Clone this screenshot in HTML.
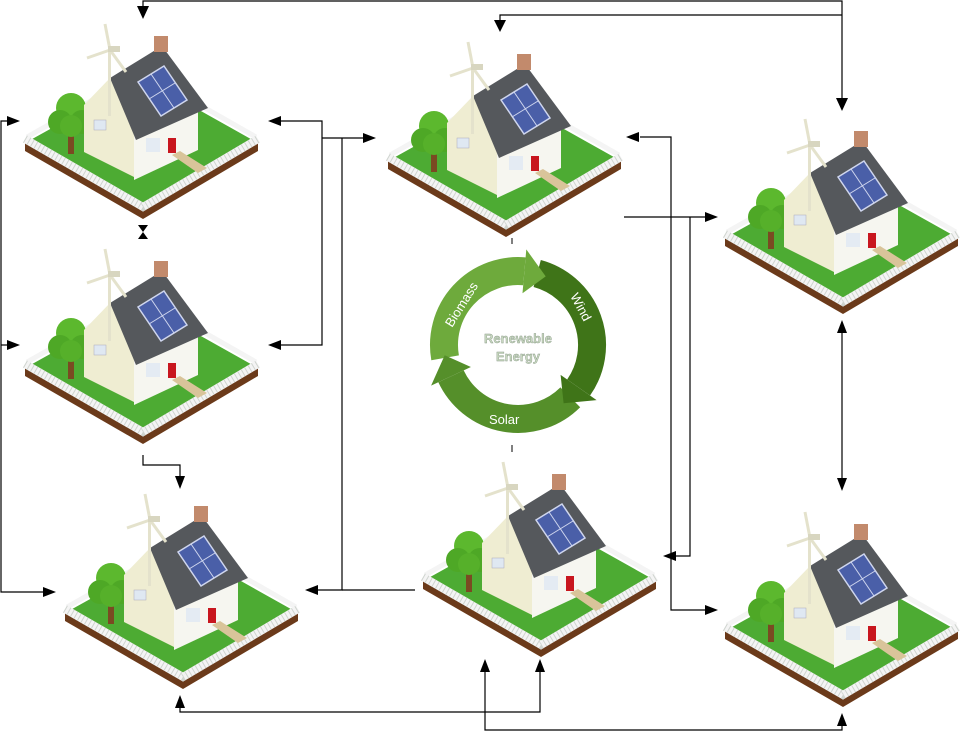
<!DOCTYPE html>
<html><head><meta charset="utf-8"><style>
html,body{margin:0;padding:0;background:#fff;}
svg{display:block;font-family:"Liberation Sans",sans-serif;}
</style></head><body>
<svg width="965" height="732" viewBox="0 0 965 732" xmlns="http://www.w3.org/2000/svg">
<defs>
<g id="h">
  <polygon points="3,123 121,191 236,123 236,131 121,199 3,131" fill="#6b3a1a"/>
  <polygon points="3,123 120,58 236,123 121,191" fill="#4dab33"/>
  <polyline points="5,117 120,52 234,117" fill="none" stroke="#f4f4f4" stroke-width="5"/>
  <polyline points="3,119 121,187 236,119" fill="none" stroke="#f4f4f4" stroke-width="8"/>
  <polyline points="3,119 121,187 236,119" fill="none" stroke="#cfd4cf" stroke-width="8" stroke-dasharray="1 3"/>
  <!-- tree -->
  <rect x="46" y="108" width="6" height="26" fill="#7a4a22"/>
  <circle cx="49" cy="88" r="15" fill="#5cb82e"/>
  <circle cx="38" cy="102" r="12" fill="#4ea826"/>
  <circle cx="60" cy="102" r="12" fill="#4ea826"/>
  <circle cx="49" cy="106" r="11" fill="#56b02a"/>
  <!-- house -->
  <polygon points="62,85 88,58 112,110 112,157 62,132" fill="#efedd2"/>
  <polygon points="112,110 176,80 176,130 112,160" fill="#f6f6f0"/>
  <polygon points="88,58 140,26 186,88 114,120" fill="#55585c"/>
  <polygon points="116,62 142,46 165,80 139,96" fill="#4a5fa8" stroke="#cfd6ee" stroke-width="1.5"/>
  <line x1="129" y1="54" x2="152" y2="88" stroke="#cfd6ee" stroke-width="1"/>
  <line x1="127" y1="79" x2="153" y2="63" stroke="#cfd6ee" stroke-width="1"/>
  <rect x="132" y="16" width="14" height="16" fill="#c28a6c"/>
  <rect x="146" y="118" width="8" height="15" fill="#c8161e"/>
  <rect x="72" y="100" width="12" height="10" fill="#dfe8f2" stroke="#aab" stroke-width="0.5"/>
  <rect x="124" y="118" width="14" height="14" fill="#e4ebf3"/>
  <polygon points="150,135 158,131 185,148 176,153" fill="#d9c49a"/>
  <!-- windmill -->
  <rect x="86" y="28" width="3" height="68" fill="#e4e2cc"/>
  <line x1="88" y1="30" x2="83" y2="4" stroke="#e4e2cc" stroke-width="3"/>
  <line x1="88" y1="30" x2="65" y2="38" stroke="#e4e2cc" stroke-width="3"/>
  <line x1="88" y1="30" x2="104" y2="52" stroke="#e4e2cc" stroke-width="3"/>
  <rect x="86" y="26" width="12" height="6" fill="#d8d6c0"/>
</g>
</defs>

<use href="#h" transform="translate(22,20)"/>
<use href="#h" transform="translate(22,245)"/>
<use href="#h" transform="translate(62,490)"/>
<use href="#h" transform="translate(385,38)"/>
<use href="#h" transform="translate(420,458)"/>
<use href="#h" transform="translate(722,115)"/>
<use href="#h" transform="translate(722,508)"/>

<!-- cycle -->
<g fill="none" stroke-width="28">
  <path d="M445.1 357.8 A74 74 0 0 1 524.4 271.3" stroke="#6eaa3c"/>
  <path d="M537.2 273.5 A74 74 0 0 1 578.6 387.5" stroke="#3f7418"/>
  <path d="M570.3 397.3 A74 74 0 0 1 451 376.3" stroke="#558f2a"/>
</g>
<polygon points="526.3,249.4 522.5,293.2 545.7,276.4" fill="#6eaa3c"/>
<polygon points="596.6,400.1 560.6,374.9 563.6,403.3" fill="#3f7418"/>
<polygon points="431.1,385.6 470.9,367 444.7,355.3" fill="#558f2a"/>
<g fill="#fff" font-size="13">
  <text transform="translate(452,328) rotate(-58)">Biomass</text>
  <text transform="translate(570,296) rotate(62)">Wind</text>
  <text x="489" y="424">Solar</text>
</g>
<g fill="#c8d8c0" font-size="13" font-weight="bold" text-anchor="middle" stroke="#8a9a88" stroke-width="0.4">
  <text x="518" y="343">Renewable</text>
  <text x="518" y="361">Energy</text>
</g>
<line x1="512" y1="238" x2="512" y2="244" stroke="#000"/>
<line x1="512" y1="445" x2="512" y2="452" stroke="#000"/>

<!-- connectors -->
<g stroke="#000" stroke-width="1.2" fill="none">
  <polyline points="143,6 143,1 842,1 842,100"/>
  <polyline points="500,20 500,15 842,15"/>
  <polyline points="8,121 1,121 1,592 45,592"/>
  <line x1="1" y1="345" x2="8" y2="345"/>
  <polyline points="280,121 322,121 322,345 280,345"/>
  <polyline points="322,138 365,138"/>
  <polyline points="342,138 342,590 318,590"/>
  <line x1="342" y1="590" x2="415" y2="590"/>
  <polyline points="143,455 143,465 180,465 180,476"/>
  <polyline points="640,137 671,137 671,610 705,610"/>
  <line x1="624" y1="217" x2="705" y2="217"/>
  <polyline points="690,217 690,556 676,556"/>
  <line x1="842" y1="333" x2="842" y2="478"/>
  <polyline points="180,708 180,712 540,712 540,672"/>
  <polyline points="485,672 485,730 842,730 842,726"/>
</g>
<g fill="#000">
  <polygon points="137,6 149,6 143,19"/>
  <polygon points="494,20 506,20 500,32"/>
  <polygon points="836,98 848,98 842,111"/>
  <polygon points="7,116 7,126 20,121"/>
  <polygon points="7,340 7,350 20,345"/>
  <polygon points="43,587 43,597 56,592"/>
  <polygon points="281,116 281,126 268,121"/>
  <polygon points="281,340 281,350 268,345"/>
  <polygon points="363,133 363,143 376,138"/>
  <polygon points="318,585 318,595 305,590"/>
  <polygon points="138,225 148,225 143,232 148,239 138,239 143,232"/>
  <polygon points="175,476 185,476 180,489"/>
  <polygon points="639,132 639,142 626,137"/>
  <polygon points="705,212 705,222 718,217"/>
  <polygon points="705,605 705,615 718,610"/>
  <polygon points="676,551 676,561 663,556"/>
  <polygon points="837,333 847,333 842,320"/>
  <polygon points="837,478 847,478 842,491"/>
  <polygon points="175,708 185,708 180,695"/>
  <polygon points="535,672 545,672 540,659"/>
  <polygon points="480,672 490,672 485,659"/>
  <polygon points="837,726 847,726 842,713"/>
</g>
</svg>
</body></html>
